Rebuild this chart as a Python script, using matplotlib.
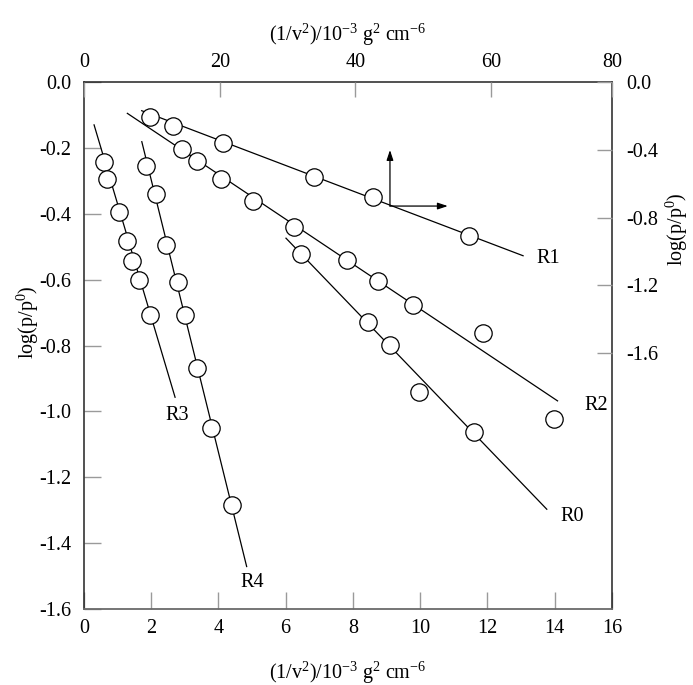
import matplotlib
matplotlib.use("Agg")
import matplotlib.pyplot as plt

plt.rcParams["font.family"] = ["Liberation Serif", "DejaVu Serif"]
plt.rcParams["mathtext.fontset"] = "custom"
plt.rcParams["mathtext.rm"] = "Liberation Serif"
plt.rcParams["mathtext.it"] = "Liberation Serif:italic"

# ---- data: bottom / left scales (1/v^2 in 10^-3 g^2 cm^-6, log(p/p0)) ----
r0_x = [6.46, 8.45, 9.11, 9.98, 11.61]
r0_y = [-0.522, -0.730, -0.798, -0.940, -1.063]
r0_fit_x = [6.01, 13.77]
r0_fit_y = [-0.474, -1.297]

r2_x = [2.91, 3.35, 4.08, 5.02, 6.25, 7.83, 8.76, 9.80, 11.88, 13.98]
r2_y = [-0.204, -0.239, -0.295, -0.361, -0.441, -0.540, -0.603, -0.677, -0.763, -1.024]
r2_fit_x = [1.29, 14.09]
r2_fit_y = [-0.095, -0.968]

r3_x = [0.60, 0.69, 1.05, 1.27, 1.44, 1.64, 1.96]
r3_y = [-0.242, -0.295, -0.394, -0.482, -0.543, -0.601, -0.707]
r3_fit_x = [0.30, 2.71]
r3_fit_y = [-0.130, -0.957]

r4_x = [1.85, 2.13, 2.44, 2.81, 3.01, 3.35, 3.78, 4.40]
r4_y = [-0.255, -0.340, -0.495, -0.608, -0.707, -0.869, -1.049, -1.284]
r4_fit_x = [1.72, 4.84]
r4_fit_y = [-0.181, -1.471]

# ---- data: top / right scales ----
r1_x = [9.7, 13.1, 20.5, 33.9, 42.6, 56.8]
r1_y = [-0.205, -0.260, -0.362, -0.562, -0.677, -0.907]
r1_fit_x = [8.5, 64.7]
r1_fit_y = [-0.169, -1.025]

bottom_ticks = [0, 2, 4, 6, 8, 10, 12, 14, 15.71]
bottom_labels = ["0", "2", "4", "6", "8", "10", "12", "14", "16"]
left_ticks = [0.0, -0.2, -0.4, -0.6, -0.8, -1.0, -1.2, -1.4, -1.6]
left_labels = ["0.0", "-0.2", "-0.4", "-0.6", "-0.8", "-1.0", "-1.2", "-1.4", "-1.6"]
top_ticks = [0, 20, 40, 60, 77.8]
top_labels = ["0", "20", "40", "60", "80"]
right_ticks = [0.0, -0.4, -0.8, -1.2, -1.6]
right_labels = ["0.0", "-0.4", "-0.8", "-1.2", "-1.6"]

xlabel = r"(1/v$^{2}$)/10$^{\mathrm{-3}}$ g$^{2}$ cm$^{\mathrm{-6}}$"
ylabel = r"log(p/p$^{0}$)"

FS = 14.5
TICK_C = "#9a9a9a"

fig = plt.figure(figsize=(6.93, 6.85), dpi=100)
rect = [0.1212, 0.1109, 0.7619, 0.7693]
ax = fig.add_axes(rect)
ax2 = fig.add_axes(rect, frameon=False)

ax.set_xlim(0, 15.71)
ax.set_ylim(-1.6, 0)
ax2.set_xlim(0, 77.8)
ax2.set_ylim(-3.11, 0)

line_kw = dict(color="black", lw=0.9, zorder=2)
mark_kw = dict(ls="none", marker="o", ms=12.5, mfc="white", mec="black",
               mew=0.9, zorder=3, clip_on=False)

for fx, fy, px, py in [(r0_fit_x, r0_fit_y, r0_x, r0_y),
                       (r2_fit_x, r2_fit_y, r2_x, r2_y),
                       (r3_fit_x, r3_fit_y, r3_x, r3_y),
                       (r4_fit_x, r4_fit_y, r4_x, r4_y)]:
    ax.plot(fx, fy, **line_kw)
    ax.plot(px, py, **mark_kw)

ax2.plot(r1_fit_x, r1_fit_y, **line_kw)
ax2.plot(r1_x, r1_y, **mark_kw)

# series labels
for txt, x, y in [("R1", 0.879, 0.666), ("R2", 0.971, 0.387),
                  ("R0", 0.9255, 0.175), ("R3", 0.177, 0.368),
                  ("R4", 0.319, 0.050)]:
    ax.text(x, y, txt, transform=ax.transAxes, ha="center", va="center",
            fontsize=FS)

# arrows showing that R1 refers to the top and right scales
arrow_kw = dict(arrowstyle="-|>,head_length=0.6,head_width=0.2",
                color="black", lw=0.9, shrinkA=0, shrinkB=0)
ax.annotate("", xy=(0.5795, 0.871), xytext=(0.5795, 0.7647),
            xycoords="axes fraction", arrowprops=arrow_kw)
ax.annotate("", xy=(0.689, 0.7647), xytext=(0.5795, 0.7647),
            xycoords="axes fraction", arrowprops=arrow_kw)

# bottom / left axis
ax.set_xticks(bottom_ticks)
ax.set_xticklabels(bottom_labels)
ax.set_yticks(left_ticks)
ax.set_yticklabels(left_labels)
ax.tick_params(direction="in", length=12, width=1, color=TICK_C,
               labelsize=FS, top=False, right=False)
ax.tick_params(axis="x", pad=7)
ax.tick_params(axis="y", pad=9)
ax.set_xlabel(xlabel, fontsize=FS, labelpad=16)
ax.set_ylabel(ylabel, fontsize=FS, labelpad=8)
ax.yaxis.set_label_coords(-0.082, 0.545)
for side in ["left", "right", "top"]:
    ax.spines[side].set_color("#222222")
    ax.spines[side].set_linewidth(1.1)
ax.spines["bottom"].set_color("#6a6a6a")
ax.spines["bottom"].set_linewidth(1.3)

# top / right axis
ax2.xaxis.tick_top()
ax2.yaxis.tick_right()
ax2.xaxis.set_label_position("top")
ax2.yaxis.set_label_position("right")
ax2.set_xticks(top_ticks)
ax2.set_xticklabels(top_labels)
ax2.set_yticks(right_ticks)
ax2.set_yticklabels(right_labels)
ax2.tick_params(direction="in", length=11, width=1, color=TICK_C,
                labelsize=FS, bottom=False, left=False)
ax2.tick_params(axis="x", pad=7)
ax2.tick_params(axis="y", pad=10)
ax2.set_xlabel(xlabel, fontsize=FS, labelpad=9)
ax2.set_ylabel(ylabel, fontsize=FS, labelpad=8)
ax2.yaxis.set_label_coords(1.098, 0.72)

fig.savefig("out.png", dpi=100)
